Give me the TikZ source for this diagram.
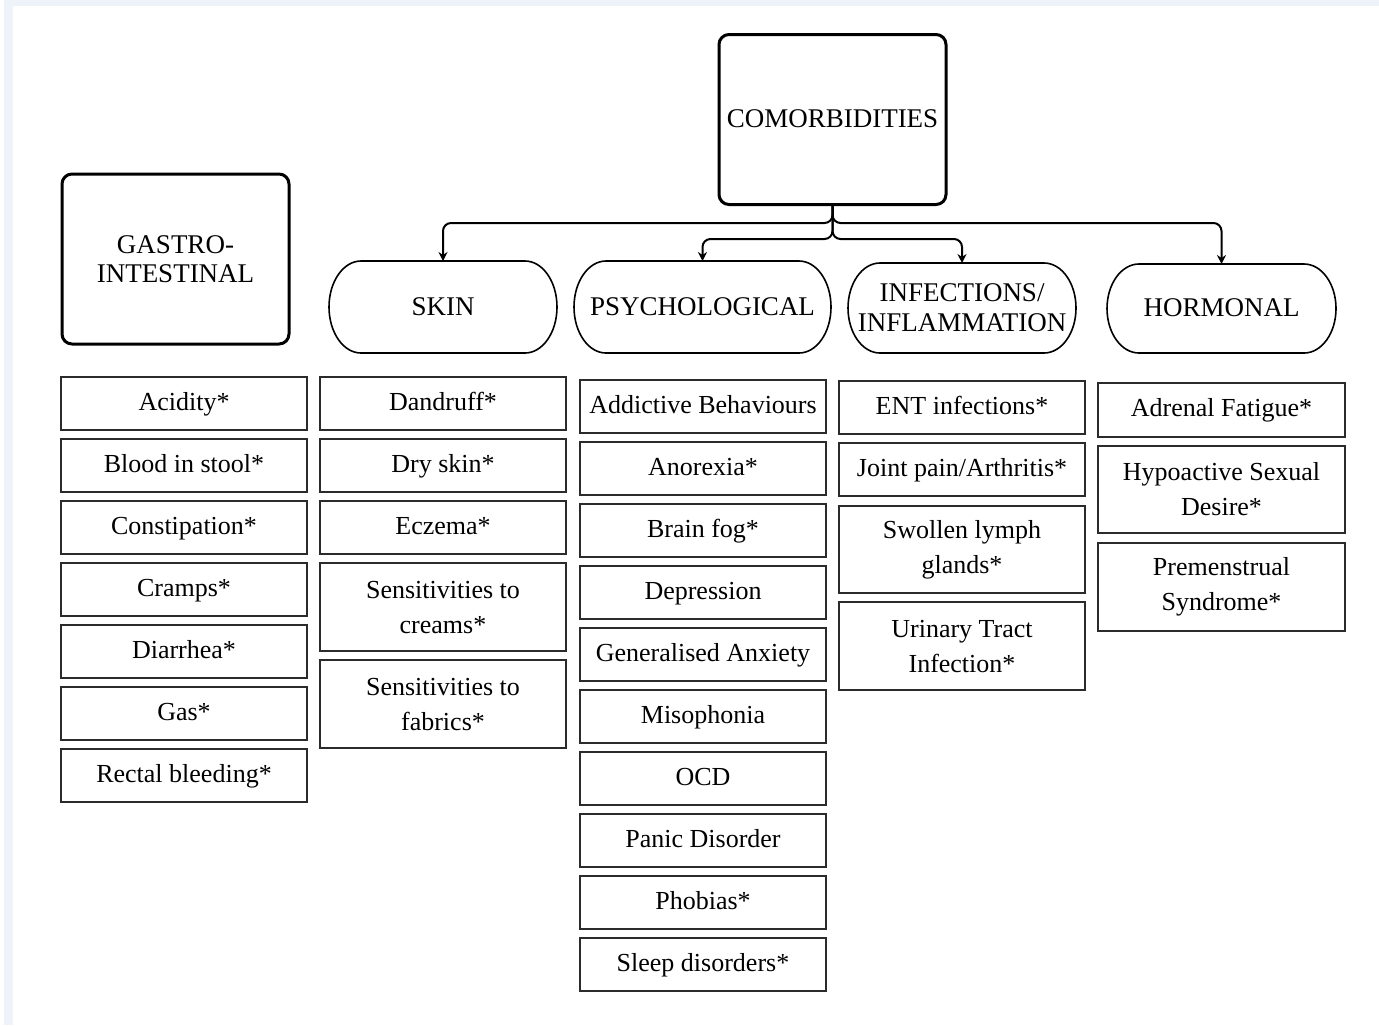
\documentclass[tikz,border=0pt]{standalone}
\usepackage{fontspec}
\setmainfont{Liberation Serif}
\usetikzlibrary{arrows.meta}
\definecolor{framebg}{HTML}{EEF3FA}
\definecolor{boxline}{HTML}{2B2B2B}
\tikzset{
  itembase/.style={draw=boxline, line width=1pt, minimum width=123pt, minimum height=26.5pt, inner sep=0pt, outer sep=0pt, align=center, font=\fontsize{13}{17.5}\selectfont},
  item/.style={itembase, text height=9.5pt, text depth=3pt},
  item2/.style={itembase, minimum height=44pt},
  mainbase/.style={draw=black, line width=1.5pt, rounded corners=5pt, minimum width=113.5pt, minimum height=85pt, inner sep=0pt, outer sep=0pt, align=center, font=\fontsize{13.5}{14.5}\selectfont},
  pillbase/.style={inner sep=0pt, outer sep=0pt, minimum width=114pt, minimum height=46pt, align=center, font=\fontsize{13.5}{15}\selectfont},
  pilltext/.style={pillbase, text height=10pt, text depth=2pt},
  pillline/.style={draw=black, line width=0.8pt},
  conn/.style={draw=black, line width=1pt, rounded corners=4pt, -{Stealth[length=4.5pt,width=4.5pt]}}
}
\newcommand\pillout[2]{\draw[pillline] ([xshift=16pt]#1.north west) -- ([xshift=-16pt]#1.north east) arc[start angle=90,end angle=-90,x radius=16pt,y radius=#2] -- ([xshift=16pt]#1.south west) arc[start angle=270,end angle=90,x radius=16pt,y radius=#2] -- cycle;}
\begin{document}
\begin{tikzpicture}[x=0.5pt,y=-0.5pt]
\useasboundingbox (0,0) rectangle (1379,1025);
\fill[framebg] (4,0) rectangle (1379,1025);
\fill[white] (13,6) rectangle (1379,1025);

% main boxes
\node[mainbase, text height=10pt, text depth=2pt] (comorb) at (832.5,119.5) {COMORBIDITIES};
\node[mainbase] (gastro) at (175.5,259) {GASTRO-\\INTESTINAL};

% category pills
\node[pilltext] (skin) at (443,307) {SKIN};
\node[pilltext, minimum width=128.5pt] (psych) at (702.5,307) {PSYCHOLOGICAL};
\node[pillbase, minimum height=45pt] (infect) at (962,308) {INFECTIONS/\\INFLAMMATION};
\node[pilltext, minimum width=114.5pt, minimum height=44.5pt] (hormonal) at (1221.5,308.5) {HORMONAL};
\pillout{skin}{23pt}
\pillout{psych}{23pt}
\pillout{infect}{22.5pt}
\pillout{hormonal}{22.25pt}

% connectors
\coordinate (j1) at (832.5,223);
\coordinate (j2) at (832.5,239);
\draw[conn] (comorb.south) |- (skin.north |- j1) -- (skin.north);
\draw[conn] (comorb.south) |- (hormonal.north |- j1) -- (hormonal.north);
\draw[conn] (comorb.south) |- (psych.north |- j2) -- (psych.north);
\draw[conn] (comorb.south) |- (infect.north |- j2) -- (infect.north);

% gastro-intestinal items
\node[item] (g1) at (184,403.5) {Acidity*};
\node[item] (g2) at (184,465.5) {Blood in stool*};
\node[item] (g3) at (184,527.5) {Constipation*};
\node[item] (g4) at (184,589.5) {Cramps*};
\node[item] (g5) at (184,651.5) {Diarrhea*};
\node[item] (g6) at (184,713.5) {Gas*};
\node[item] (g7) at (184,775.5) {Rectal bleeding*};

% skin items
\node[item] (s1) at (443,403.5) {Dandruff*};
\node[item] (s2) at (443,465.5) {Dry skin*};
\node[item] (s3) at (443,527.5) {Eczema*};
\node[item2] (s4) at (443,607) {Sensitivities to\\creams*};
\node[item2] (s5) at (443,704) {Sensitivities to\\fabrics*};

% psychological items
\node[item] (p1) at (703,406.5) {Addictive Behaviours};
\node[item] (p2) at (703,468.5) {Anorexia*};
\node[item] (p3) at (703,530.5) {Brain fog*};
\node[item] (p4) at (703,592.5) {Depression};
\node[item] (p5) at (703,654.5) {Generalised Anxiety};
\node[item] (p6) at (703,716.5) {Misophonia};
\node[item] (p7) at (703,778.5) {OCD};
\node[item] (p8) at (703,840.5) {Panic Disorder};
\node[item] (p9) at (703,902.5) {Phobias*};
\node[item] (p10) at (703,964.5) {Sleep disorders*};

% infections items
\node[item] (i1) at (962,407.5) {ENT infections*};
\node[item] (i2) at (962,469.5) {Joint pain/Arthritis*};
\node[item2, minimum height=43.5pt] (i3) at (962,549.5) {Swollen lymph\\glands*};
\node[item2] (i4) at (962,646) {Urinary Tract\\Infection*};

% hormonal items
\node[item, minimum width=123.5pt, minimum height=27pt] (h1) at (1221.5,410) {Adrenal Fatigue*};
\node[item2, minimum width=123.5pt, minimum height=43.5pt] (h2) at (1221.5,489.5) {Hypoactive Sexual\\Desire*};
\node[item2, minimum width=123.5pt] (h3) at (1221.5,587) {Premenstrual\\Syndrome*};
\end{tikzpicture}
\end{document}
